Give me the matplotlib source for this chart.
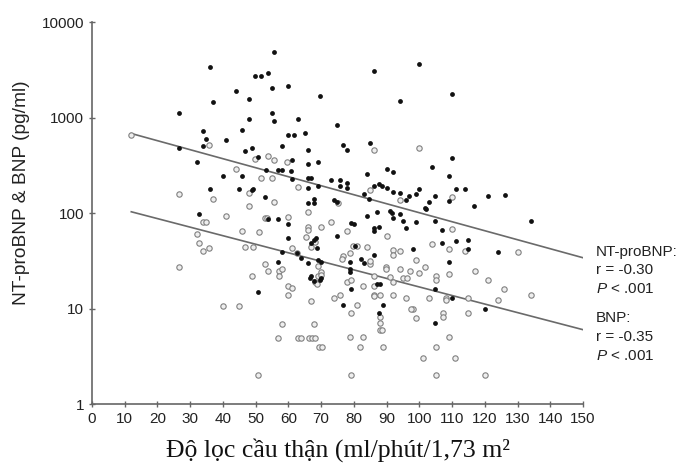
"""Scatter of NT-proBNP / BNP against eGFR, log y axis."""

import matplotlib

matplotlib.use("Agg", force=True)

import matplotlib.pyplot as plt

plt.rcParams["font.family"] = ["Liberation Sans", "DejaVu Sans"]
plt.rcParams["mathtext.fontset"] = "custom"
plt.rcParams["mathtext.rm"] = "Liberation Sans"
plt.rcParams["mathtext.it"] = "Liberation Sans:italic"

# NT-proBNP (filled dots): eGFR, pg/ml
nt_x = [
    55.7, 36.0, 49.8, 51.7, 53.9, 44.0, 54.9, 59.9, 69.6, 36.9, 48.0, 26.7, 54.9,
    47.9, 55.7, 62.8, 33.8, 45.8, 59.8, 61.8, 65.1, 34.7, 40.8, 33.8, 49.0, 46.7,
    58.0, 66.0, 26.7, 32.0, 50.6, 53.1, 56.9, 58.0, 61.0, 60.8, 69.1, 66.0, 39.9,
    45.8, 61.0, 66.1, 67.0, 69.0, 65.9, 44.9, 48.9, 49.3, 36.0, 53.0, 66.0, 67.8,
    67.8, 86.1, 100.0, 109.9, 94.0, 74.9, 76.8, 78.0, 84.8, 109.9, 104.0, 90.0,
    91.9, 83.9, 109.0, 73.0, 75.9, 75.9, 78.0, 78.0, 83.0, 86.0, 87.8, 88.7, 90.0,
    91.9, 94.0, 96.9, 99.0, 100.0, 95.9, 104.9, 103.0, 109.0, 111.1, 114.0, 121.0,
    126.1, 116.8, 101.7, 74.0, 74.8, 84.7, 32.8, 56.9, 53.7, 59.8, 59.8, 58.0,
    56.9, 50.8, 66.1, 66.8, 67.9, 66.8, 63.9, 62.7, 134.0, 124.1, 102.0, 83.9,
    87.0, 91.0, 91.6, 92.1, 94.1, 95.1, 95.9, 99.0, 104.9, 107.0, 107.0, 111.1,
    115.0, 115.0, 79.0, 79.9, 86.0, 86.2, 87.8, 74.9, 80.4, 98.0, 68.4, 68.8,
    69.1, 70.0, 86.0, 82.1, 83.0, 78.8, 78.8, 78.8, 109.0, 79.0, 87.2, 88.0,
    104.9, 110.0, 120.2, 76.8, 88.8, 87.8, 104.9, 66.6, 67.8, 69.7, 70.0,
]
nt_y = [
    4800, 3400, 2750, 2750, 2950, 1900, 2050, 2140, 1660, 1450, 1550, 1120, 1120,
    955, 930, 955, 725, 740, 660, 660, 690, 590, 575, 500, 480, 450,
    500, 455, 480, 345, 390, 285, 280, 280, 355, 275, 340, 325, 245,
    245, 225, 230, 230, 190, 182, 178, 175, 178, 178, 148, 126, 126,
    141, 3090, 3630, 1780, 1480, 830, 513, 457, 537, 380, 302, 288,
    269, 257, 243, 219, 219, 191, 204, 182, 158, 191, 200, 191, 182,
    166, 162, 151, 158, 178, 138, 151, 129, 132, 178, 178, 151,
    155, 117, 112, 138, 129, 141, 98, 87, 87, 76, 55, 39,
    31, 15, 30, 22, 52, 48, 34, 38, 83, 39, 110, 93,
    102, 105, 100, 89, 98, 83, 69, 81, 83, 66, 49, 51,
    52, 42, 79, 76, 69, 65, 71, 58, 45, 42, 55, 43,
    32, 31, 36, 33, 30, 31, 24, 26, 31, 16, 18, 18,
    16, 13, 10, 11, 11, 9, 7, 21, 19.5, 20, 21,
]

# BNP (open circles): eGFR, pg/ml
bnp_x = [
    11.8, 35.8, 49.9, 53.9, 55.7, 59.5, 44.0, 51.7, 54.9, 62.8, 26.7, 36.9, 48.0,
    48.0, 55.7, 86.1, 100.0, 84.9, 94.0, 109.9, 40.9, 33.8, 34.8, 53.0, 53.5,
    59.8, 45.8, 50.9, 32.0, 32.8, 33.8, 35.8, 46.8, 49.1, 26.7, 53.0, 53.9, 48.9,
    57.0, 58.0, 57.0, 59.8, 61.0, 59.8, 40.0, 44.9, 58.0, 56.9, 62.8, 64.0, 66.2,
    67.3, 68.1, 67.8, 50.7, 66.9, 69.4, 61.0, 62.5, 65.5, 66.0, 66.0, 66.0, 70.0,
    67.0, 68.0, 68.0, 68.7, 69.0, 70.0, 70.0, 73.0, 75.0, 130.0, 134.0, 125.9,
    124.1, 121.1, 116.9, 115.0, 115.0, 114.0, 110.0, 109.0, 109.0, 108.0, 108.0,
    107.1, 107.1, 104.0, 105.0, 105.0, 101.8, 100.0, 103.0, 99.0, 94.1, 97.2,
    95.1, 96.1, 91.9, 92.1, 94.1, 91.9, 95.9, 98.2, 99.0, 109.0, 105.0, 101.0,
    111.0, 79.0, 105.0, 120.2, 89.8, 89.8, 88.0, 88.0, 88.0, 88.6, 88.8, 82.0,
    70.2, 78.8, 82.9, 79.0, 74.0, 75.8, 80.9, 82.9, 86.0, 77.8, 79.0, 79.8, 80.9,
    78.0, 78.8, 76.8, 76.3, 90.0, 69.0, 84.1, 86.0, 86.0, 86.0, 88.0, 84.9, 84.9,
    91.0, 92.0, 97.6,
]
bnp_y = [
    660, 510, 370, 400, 355, 340, 288, 234, 234, 186, 158, 141, 162,
    117, 129, 457, 479, 174, 138, 148, 93, 81, 81, 89, 89,
    91, 65, 63, 60, 48, 40, 43, 44, 44, 27, 29.5, 24.5, 22,
    24.5, 25.7, 22, 17, 16.2, 13.8, 10.7, 10.7, 6.9, 4.9, 4.9, 4.9, 4.9,
    4.9, 4.9, 6.9, 2.0, 12, 4.0, 43, 38, 56, 71, 66, 102, 71,
    44, 50, 19, 18, 22, 24, 22.5, 81, 127, 39, 14, 16,
    12.3, 20, 24.5, 13, 9, 40, 68, 42, 23, 13, 12.3,
    9, 8.1, 47, 22, 20, 27.5, 23.4, 13, 32, 26, 24.5,
    21, 21, 41, 36, 40, 14, 13, 10, 8, 5, 4, 3,
    3, 2, 2, 2, 27.5, 25.7, 8.1, 7.1, 6, 5.9, 4, 4,
    4, 5, 5, 8.9, 13, 14, 11, 17, 17, 19, 20, 45, 45,
    65, 38, 35.5, 33, 57, 28, 44, 22, 13.8, 13.5, 14, 29.5, 31.6,
    21.4, 19, 10,
]

# regression lines, end points
fit_x = [12, 150]
nt_fit = [680, 34]
bnp_fit = [103, 6]

x_ticks = list(range(0, 151, 10))
y_ticks = [1, 10, 100, 1000, 10000]

annotations = [
    ("NT-proBNP:", 251.7),
    ("r = -0.30", 270.0),
    ("$\\it{P}$ < .001", 288.7),
    ("BNP:", 318.3),
    ("r = -0.35", 337.3),
    ("$\\it{P}$ < .001", 356.0),
]

W, H = 685, 468
fig = plt.figure(figsize=(W / 100, H / 100), dpi=100)
ax = fig.add_axes([92 / W, 1 - 404 / H, (583 - 92) / W, (404 - 22) / H])

ax.scatter(bnp_x, bnp_y, s=15, facecolor="#eeeeee", edgecolor="#808080",
           linewidth=0.8, zorder=3)
ax.scatter(nt_x, nt_y, s=12, color="#111111", linewidth=0, zorder=4)
ax.plot(fit_x, nt_fit, color="#6a6a6a", linewidth=1.2, zorder=2)
ax.plot(fit_x, bnp_fit, color="#6a6a6a", linewidth=1.2, zorder=2)

ax.set_yscale("log")
ax.set_xlim(0, 150)
ax.set_ylim(1, 10000)
ax.set_xticks(x_ticks)
ax.set_xticklabels([str(t) for t in x_ticks])
ax.set_yticks(y_ticks)
ax.set_yticklabels([str(t) for t in y_ticks])
ax.minorticks_off()

for side in ("top", "right"):
    ax.spines[side].set_visible(False)
for side in ("left", "bottom"):
    ax.spines[side].set_color("#666666")
    ax.spines[side].set_linewidth(1.2)
ax.tick_params(colors="#666666", labelcolor="#222222", labelsize=11,
               direction="inout", length=5, width=1.0, pad=3)

ax.set_ylabel("NT-proBNP & BNP (pg/ml)", fontsize=13.8, color="#222222")
ax.yaxis.set_label_coords(-0.143, 0.552)
ax.yaxis.label.set_va("center")

ax.set_xlabel("Độ lọc cầu thận (ml/phút/1,73 m²", fontsize=18.5,
              family=["Liberation Serif", "DejaVu Serif"], color="#111111")
ax.xaxis.set_label_coords(0.5, -0.12)
ax.xaxis.label.set_va("center")

for text, ypix in annotations:
    fig.text(596 / W, 1 - ypix / H, text, fontsize=11, color="#222222",
             ha="left", va="center")

fig.savefig("out.png", dpi=100)
